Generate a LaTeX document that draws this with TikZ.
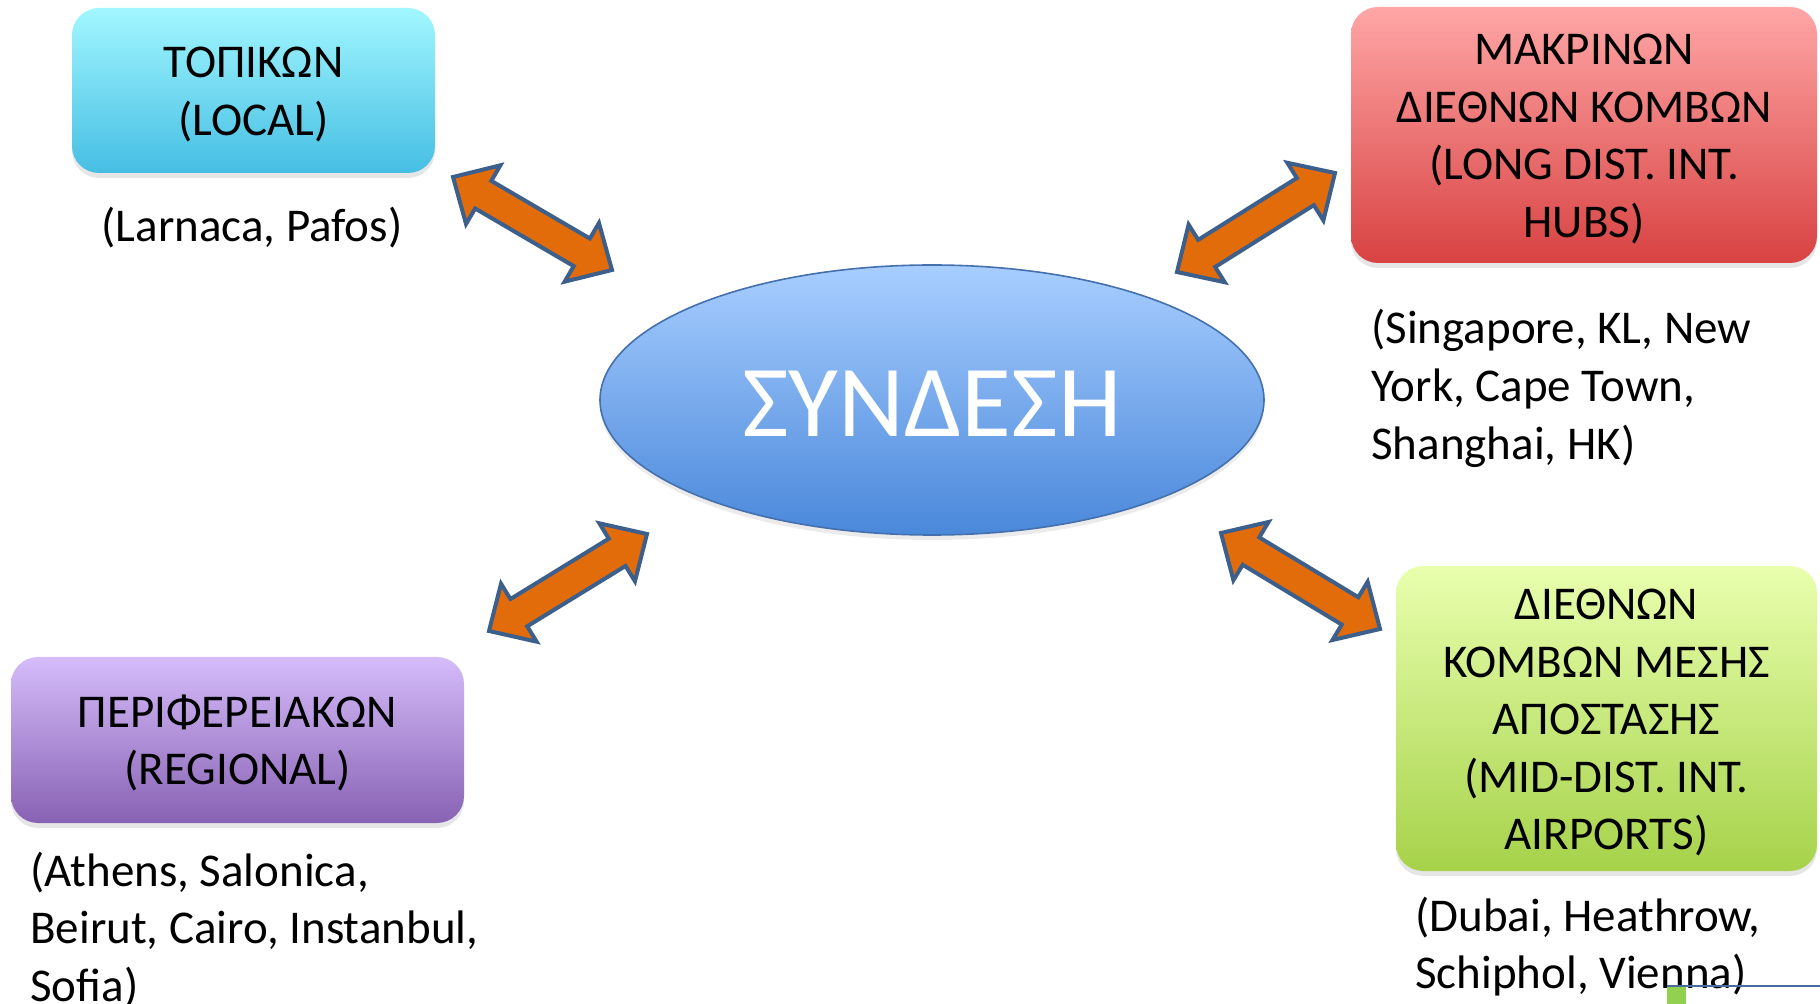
\documentclass[tikz,border=0pt]{standalone}
\usepackage{fontspec}
\setmainfont{Carlito}
\usetikzlibrary{calc,shadows,shapes.geometric}
\definecolor{arrowfill}{HTML}{E36C0A}
\definecolor{arrowline}{HTML}{3D5F8C}
\definecolor{localtop}{HTML}{A2F7FF}
\definecolor{localbot}{HTML}{45BEE3}
\definecolor{longtop}{HTML}{FFA6A6}
\definecolor{longbot}{HTML}{D84242}
\definecolor{regtop}{HTML}{D5BCFA}
\definecolor{regbot}{HTML}{8862B4}
\definecolor{midtop}{HTML}{E9FFAE}
\definecolor{midbot}{HTML}{A6D24A}
\definecolor{hubtop}{HTML}{A8CEFF}
\definecolor{hubbot}{HTML}{4A88DA}
\definecolor{hubline}{HTML}{4470AE}
\definecolor{cornergreen}{HTML}{92D050}
\definecolor{cornerline}{HTML}{4A6C9B}
\tikzset{
  box/.style={rectangle, rounded corners=13.5pt, inner sep=0pt,
    font=\fontsize{23.5}{28.8}\selectfont,
    drop shadow={opacity=0.2, shadow xshift=0pt, shadow yshift=-2.5pt}},
  citytext/.style={inner sep=0pt, font=\fontsize{23.5}{28.8}\selectfont},
  blockarr/.style={fill=arrowfill, draw=arrowline, line width=2pt, line join=miter}
}
\newcommand\boxlines[1]{\raisebox{-2.3pt}[\height][\depth]{\begin{tabular}{@{}c@{}}#1\end{tabular}}}
\newcommand\blockarrow[2]{%
  \coordinate (h1) at ($(#1)!17.5pt!(#2)$);
  \coordinate (h2) at ($(#2)!17.5pt!(#1)$);
  \path[blockarr] (#1) -- ($(h1)!17pt!90:(#2)$) -- ($(h1)!8pt!90:(#2)$)
    -- ($(h2)!8pt!90:(#2)$) -- ($(h2)!17pt!90:(#2)$) -- (#2)
    -- ($(h2)!17pt!-90:(#2)$) -- ($(h2)!8pt!-90:(#2)$)
    -- ($(h1)!8pt!-90:(#2)$) -- ($(h1)!17pt!-90:(#2)$) -- cycle;
}
\begin{document}
\begin{tikzpicture}[x=0.5pt,y=-0.5pt]
\useasboundingbox (0,0) rectangle (1820,1004);

% boxes
\node[box, minimum width=181.5pt, minimum height=82.5pt, top color=localtop, bottom color=localbot]
  (local) at (253.5,90.5) {\boxlines{ΤΟΠΙΚΩΝ\\(LOCAL)}};
\node[box, minimum width=233pt, minimum height=128pt, top color=longtop, bottom color=longbot]
  (long) at (1584,135) {\boxlines{ΜΑΚΡΙΝΩΝ\\ΔΙΕΘΝΩΝ ΚΟΜΒΩΝ\\(LONG DIST. INT.\\HUBS)}};
\node[box, minimum width=226.5pt, minimum height=83pt, top color=regtop, bottom color=regbot]
  (regional) at (237.5,740) {\boxlines{ΠΕΡΙΦΕΡΕΙΑΚΩΝ\\(REGIONAL)}};
\node[box, minimum width=210.5pt, minimum height=152.5pt, top color=midtop, bottom color=midbot]
  (mid) at (1606.5,718.5) {\boxlines{ΔΙΕΘΝΩΝ\\ΚΟΜΒΩΝ ΜΕΣΗΣ\\ΑΠΟΣΤΑΣΗΣ\\(MID-DIST. INT.\\AIRPORTS)}};

% central ellipse
\node[ellipse, minimum width=332pt, minimum height=135pt, inner sep=0pt,
  top color=hubtop, bottom color=hubbot, draw=hubline, line width=0.8pt,
  drop shadow={opacity=0.16, shadow xshift=0pt, shadow yshift=-2.5pt},
  text=white, font=\fontsize{51}{60}\selectfont]
  (hub) at (932,400) {\raisebox{-1.7pt}[\height][\depth]{ΣΥΝΔΕΣΗ}};

% city labels
\node[citytext, anchor=base] (larnaca) at (252,242) {(Larnaca, Pafos)};
\node[citytext, anchor=base west] (singapore) at (1371,344)
  {\begin{tabular}[t]{@{}l@{}}(Singapore, KL, New\\York, Cape Town,\\Shanghai, HK)\end{tabular}};
\node[citytext, anchor=base west] (athens) at (30,886)
  {\begin{tabular}[t]{@{}l@{}}(Athens, Salonica,\\Beirut, Cairo, Instanbul,\\Sofia)\end{tabular}};
\node[citytext, anchor=base west] (dubai) at (1415,931)
  {\begin{tabular}[t]{@{}l@{}}(Dubai, Heathrow,\\Schiphol, Vienna)\end{tabular}};

% arrow end points
\coordinate (a1s) at (453,177);
\coordinate (a1e) at (612,270);
\coordinate (a2s) at (1177,272);
\coordinate (a2e) at (1335,173);
\coordinate (a3s) at (489,631);
\coordinate (a3e) at (647,534);
\coordinate (a4s) at (1221,533);
\coordinate (a4e) at (1380,629);
\blockarrow{a1s}{a1e}
\blockarrow{a2s}{a2e}
\blockarrow{a3s}{a3e}
\blockarrow{a4s}{a4e}

% partial element at the bottom right corner
\fill[cornergreen] (1667,987) rectangle (1686,1004);
\draw[cornerline, line width=0.7pt] (1667,986) -- (1820,986);
\end{tikzpicture}
\end{document}
